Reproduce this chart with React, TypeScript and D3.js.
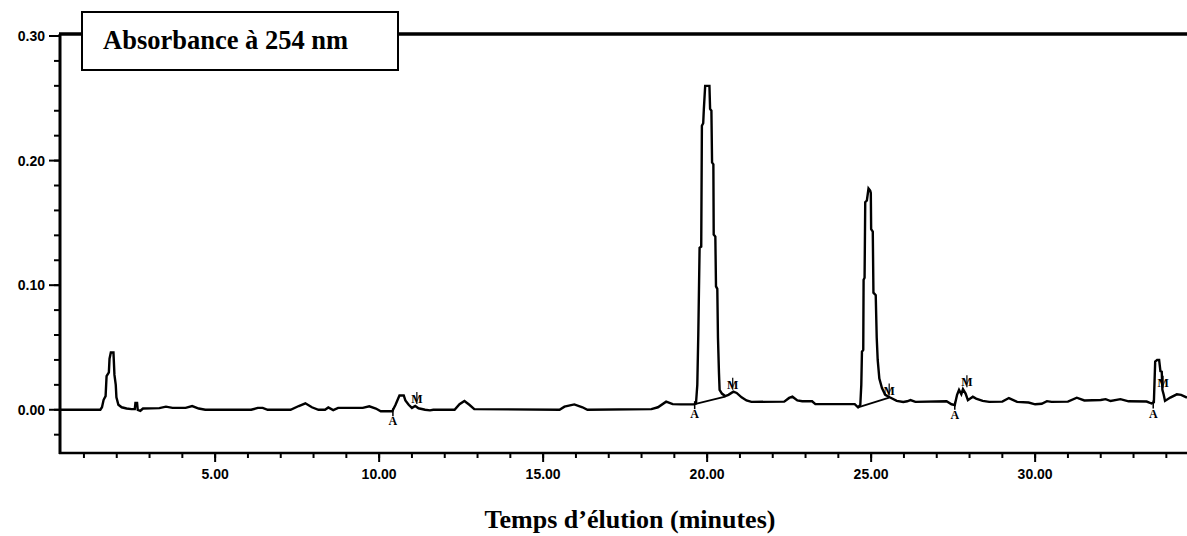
import React, { useEffect, useRef } from 'react';
import * as d3 from 'd3';

// chromatogram trace (minutes, AU)
const elutionTime = [
  0.27, 1.5, 1.55, 1.6, 1.66, 1.69, 1.76, 1.78, 1.82, 1.9, 1.93, 1.97, 1.99, 2.05, 2.15, 2.3, 2.45,
  2.55, 2.57, 2.62, 2.64, 2.72, 2.8, 3.3, 3.5, 3.7, 4.1, 4.3, 4.5, 4.7, 6.1, 6.3, 6.45, 6.6, 7.3,
  7.55, 7.75, 7.95, 8.15, 8.35, 8.45, 8.6, 8.75, 9.5, 9.7, 9.9, 10.05, 10.4, 10.5, 10.58, 10.62,
  10.75, 10.8, 10.9, 11.0, 11.1, 11.2, 11.4, 11.55, 11.65, 12.3, 12.45, 12.6, 12.75, 12.9, 15.5,
  15.65, 15.95, 16.2, 16.35, 18.3, 18.5, 18.75, 18.95, 19.2, 19.6, 19.66, 19.7, 19.73, 19.77,
  19.82, 19.84, 19.88, 19.9, 19.94, 20.07, 20.09, 20.13, 20.15, 20.19, 20.2, 20.25, 20.27, 20.31,
  20.33, 20.36, 20.38, 20.45, 20.55, 20.65, 20.8, 20.9, 21.05, 21.2, 21.35, 22.35, 22.5, 22.6,
  22.75, 22.9, 23.2, 23.3, 24.5, 24.6, 24.67, 24.7, 24.72, 24.76, 24.77, 24.8, 24.82, 24.87,
  24.92, 24.97, 24.99, 25.0, 25.05, 25.07, 25.14, 25.17, 25.2, 25.25, 25.33, 25.43, 25.58, 25.78,
  25.98, 26.1, 26.2, 26.35, 27.3, 27.45, 27.55, 27.62, 27.68, 27.75, 27.8, 27.88, 27.95, 28.1,
  28.2, 28.4, 28.6, 29.0, 29.2, 29.45, 29.8, 30.0, 30.2, 30.36, 30.5, 31.0, 31.27, 31.5, 32.0,
  32.15, 32.3, 32.6, 32.85, 33.4, 33.55, 33.62, 33.66, 33.72, 33.78, 33.82, 33.86, 33.88, 33.92,
  33.96, 34.12, 34.32, 34.45, 34.63,
];
const absorbance = [
  0, 0, 0.002, 0.008, 0.011, 0.027, 0.03, 0.041, 0.046, 0.046, 0.028, 0.02, 0.01, 0.004, 0.002,
  0.001, 0.0005, 0.0005, 0.0055, 0.0055, 0, -0.0008, 0.001, 0.0013, 0.0025, 0.0015, 0.0015, 0.003,
  0.001, 0, 0, 0.0015, 0.0015, 0, 0, 0.003, 0.0052, 0.002, 0, 0, 0.0018, -0.0003, 0.0015, 0.0015,
  0.0028, 0.001, -0.0012, -0.0012, 0.004, 0.009, 0.0115, 0.0115, 0.0075, 0.004, 0.0015, 0.003,
  0.0012, 0, -0.0005, 0, 0, 0.0045, 0.007, 0.004, 0.0005, 0, 0.0025, 0.0043, 0.002, 0, 0.0005,
  0.002, 0.0065, 0.0045, 0.0043, 0.0043, 0.005, 0.02, 0.06, 0.13, 0.131, 0.228, 0.23, 0.2415,
  0.26, 0.26, 0.2415, 0.24, 0.1985, 0.197, 0.1407, 0.139, 0.099, 0.097, 0.058, 0.03, 0.016, 0.013,
  0.011, 0.012, 0.0145, 0.0135, 0.01, 0.0075, 0.0063, 0.0065, 0.0095, 0.0105, 0.0075, 0.0068,
  0.0068, 0.0045, 0.0045, 0.002, 0.004, 0.02, 0.0466, 0.048, 0.1044, 0.106, 0.1665, 0.168, 0.1776,
  0.176, 0.174, 0.145, 0.143, 0.094, 0.092, 0.058, 0.04, 0.025, 0.0175, 0.012, 0.0098, 0.0071,
  0.0063, 0.0068, 0.0078, 0.0063, 0.0068, 0.0044, 0.0038, 0.012, 0.016, 0.0125, 0.0165, 0.013,
  0.0077, 0.0105, 0.009, 0.0071, 0.0063, 0.0065, 0.0094, 0.0063, 0.0058, 0.0044, 0.0048, 0.0069,
  0.0063, 0.0065, 0.0097, 0.0075, 0.0078, 0.0085, 0.007, 0.0085, 0.0068, 0.0066, 0.005, 0.006,
  0.0386, 0.04, 0.04, 0.031, 0.0305, 0.016, 0.012, 0.0071, 0.0098, 0.0124, 0.012, 0.0098,
];

// integration markers (A = start, M = end)
const startTimes = [10.42, 19.62, 27.55, 33.6];
const startLevels = [-0.0012, 0.0045, 0.004, 0.005];
const endTimes = [11.15, 20.78, 25.55, 27.92, 33.9];
const endLevels = [0.003, 0.0145, 0.0098, 0.0165, 0.016];

// drawn baselines under the two main peaks
const baseStartT = [19.62, 24.6];
const baseStartA = [0.0045, 0.002];
const baseEndT = [20.55, 25.55];
const baseEndA = [0.0105, 0.0098];

const xMajor = [5, 10, 15, 20, 25, 30];
const xLabels = ['5.00', '10.00', '15.00', '20.00', '25.00', '30.00'];
const yMajor = [0, 0.1, 0.2, 0.3];
const yLabels = ['0.00', '0.10', '0.20', '0.30'];

const W = 1187;
const H = 536;

const App: React.FC = () => {
  const ref = useRef<SVGSVGElement>(null);

  useEffect(() => {
    if (!ref.current) return;
    const svg = d3.select(ref.current);
    svg.selectAll('*').remove();

    const x = d3.scaleLinear().domain([0.27, 34.63]).range([60, 1187]);
    const y = d3.scaleLinear().domain([-0.0347, 0.3]).range([453, 36]);
    const tickFont = '"Liberation Sans", Arial, sans-serif';
    const serif = '"Liberation Serif", "Times New Roman", serif';

    // y ticks
    const yMinor = d3.range(-0.02, 0.301, 0.02);
    svg.append('g').selectAll('line')
      .data(yMinor)
      .join('line')
      .attr('x1', 54).attr('x2', 60)
      .attr('y1', d => y(d)).attr('y2', d => y(d))
      .attr('stroke', '#000').attr('stroke-width', 2);
    svg.append('g').selectAll('line')
      .data(yMajor)
      .join('line')
      .attr('x1', 49).attr('x2', 60)
      .attr('y1', d => y(d)).attr('y2', d => y(d))
      .attr('stroke', '#000').attr('stroke-width', 2);
    svg.append('g').selectAll('text')
      .data(yMajor)
      .join('text')
      .attr('x', 45)
      .attr('y', d => y(d) + 5)
      .attr('text-anchor', 'end')
      .attr('font-family', tickFont)
      .attr('font-weight', 'bold')
      .attr('font-size', 14)
      .text((d, i) => yLabels[i]);

    // x ticks
    const xMinor = d3.range(1, 35, 1);
    svg.append('g').selectAll('line')
      .data(xMinor)
      .join('line')
      .attr('x1', d => x(d)).attr('x2', d => x(d))
      .attr('y1', 453).attr('y2', 458)
      .attr('stroke', '#000').attr('stroke-width', 2);
    svg.append('g').selectAll('line')
      .data(xMajor)
      .join('line')
      .attr('x1', d => x(d)).attr('x2', d => x(d))
      .attr('y1', 453).attr('y2', 462)
      .attr('stroke', '#000').attr('stroke-width', 2);
    svg.append('g').selectAll('text')
      .data(xMajor)
      .join('text')
      .attr('x', d => x(d))
      .attr('y', 479)
      .attr('text-anchor', 'middle')
      .attr('font-family', tickFont)
      .attr('font-weight', 'bold')
      .attr('font-size', 14)
      .text((d, i) => xLabels[i]);

    // frame
    svg.append('line')
      .attr('x1', 60).attr('x2', 60).attr('y1', y(0.3) - 2).attr('y2', 454)
      .attr('stroke', '#000').attr('stroke-width', 3);
    svg.append('line')
      .attr('x1', 59).attr('x2', W).attr('y1', 453).attr('y2', 453)
      .attr('stroke', '#000').attr('stroke-width', 2.5);
    svg.append('line')
      .attr('x1', 59).attr('x2', W).attr('y1', y(0.3) - 2).attr('y2', y(0.3) - 2)
      .attr('stroke', '#000').attr('stroke-width', 3.5);

    // integration baselines
    svg.append('g').selectAll('line')
      .data(baseStartT)
      .join('line')
      .attr('x1', d => x(d)).attr('y1', (d, i) => y(baseStartA[i]))
      .attr('x2', (d, i) => x(baseEndT[i])).attr('y2', (d, i) => y(baseEndA[i]))
      .attr('stroke', '#000').attr('stroke-width', 1.8);

    // trace
    const pts = elutionTime.map((t, i) => [t, absorbance[i]] as [number, number]);
    const line = d3.line<[number, number]>().x(d => x(d[0])).y(d => y(d[1]));
    svg.append('path')
      .datum(pts)
      .attr('d', line)
      .attr('fill', 'none')
      .attr('stroke', '#000')
      .attr('stroke-width', 2.4)
      .attr('stroke-linejoin', 'miter');

    // markers
    svg.append('g').selectAll('line')
      .data(startTimes)
      .join('line')
      .attr('x1', d => x(d)).attr('x2', d => x(d))
      .attr('y1', (d, i) => y(startLevels[i]) - 3).attr('y2', (d, i) => y(startLevels[i]) + 5)
      .attr('stroke', '#000').attr('stroke-width', 1.5);
    svg.append('g').selectAll('text')
      .data(startTimes)
      .join('text')
      .attr('x', d => x(d))
      .attr('y', (d, i) => y(startLevels[i]) + 14)
      .attr('text-anchor', 'middle')
      .attr('font-family', serif)
      .attr('font-weight', 'bold')
      .attr('font-size', 12)
      .text('A');
    svg.append('g').selectAll('line')
      .data(endTimes)
      .join('line')
      .attr('x1', d => x(d)).attr('x2', d => x(d))
      .attr('y1', (d, i) => y(endLevels[i]) - 14).attr('y2', (d, i) => y(endLevels[i]) - 2)
      .attr('stroke', '#000').attr('stroke-width', 1.2);
    svg.append('g').selectAll('text')
      .data(endTimes)
      .join('text')
      .attr('x', d => x(d))
      .attr('y', (d, i) => y(endLevels[i]) - 3)
      .attr('text-anchor', 'middle')
      .attr('font-family', serif)
      .attr('font-weight', 'bold')
      .attr('font-size', 12)
      .text('M');

    // title box
    svg.append('rect')
      .attr('x', 82).attr('y', 12).attr('width', 316).attr('height', 58)
      .attr('fill', '#fff').attr('stroke', '#000').attr('stroke-width', 2);
    svg.append('text')
      .attr('x', 103).attr('y', 49)
      .attr('font-family', serif)
      .attr('font-weight', 'bold')
      .attr('font-size', 26.5)
      .text('Absorbance à 254 nm');

    // axis title
    svg.append('text')
      .attr('x', 630).attr('y', 528)
      .attr('text-anchor', 'middle')
      .attr('font-family', serif)
      .attr('font-weight', 'bold')
      .attr('font-size', 26)
      .text('Temps d’élution (minutes)');
  }, []);

  return (
    <div style={{ position: 'absolute', left: 0, top: 0 }}>
      <svg ref={ref} width={W} height={H} style={{ display: 'block', background: '#fff' }} />
    </div>
  );
};

export default App;
